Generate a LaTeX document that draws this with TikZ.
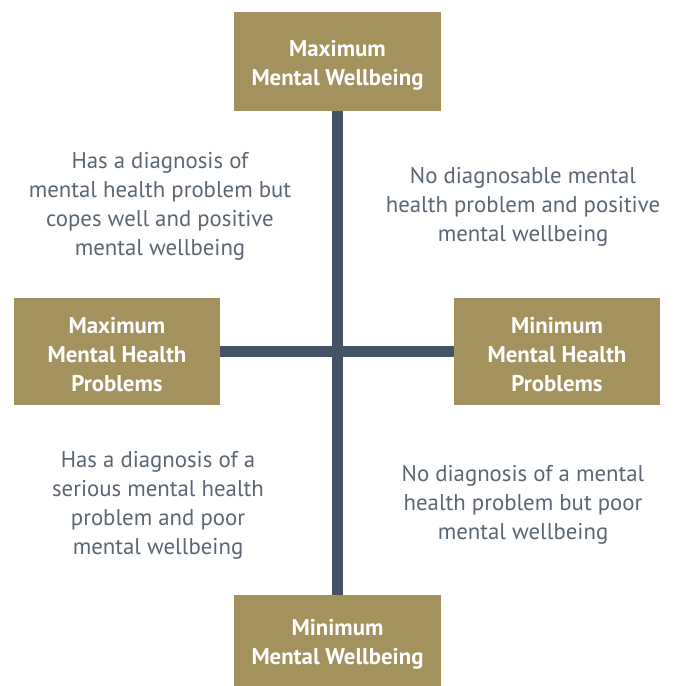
\documentclass[tikz,border=0pt]{standalone}
\usepackage{fontspec}
\setmainfont{PT Sans}
\begin{document}
\begin{tikzpicture}[x=1pt,y=-1pt,
  gold/.style={fill=boxgold, draw=none, text=white, font=\fontsize{22.8}{29}\selectfont\bfseries, align=center, inner sep=0pt},
  goldtext/.style={text=white, font=\fontsize{22.8}{29}\selectfont\bfseries, align=center, inner sep=0pt, yshift=-3.5pt},
  note/.style={text=notegray, font=\fontsize{22.8}{29}\selectfont, align=center, inner sep=0pt, yshift=-3pt},
  axis/.style={draw=axisblue, line width=11pt}]
\definecolor{boxgold}{HTML}{A4925E}
\definecolor{axisblue}{HTML}{435364}
\definecolor{notegray}{HTML}{5A6672}
\useasboundingbox (0,0) rectangle (676,686);
\node[gold, minimum width=207pt, minimum height=99pt] (top) at (337.5,61.5) {};
\node[goldtext] (toptext) at (top.center) {Maximum\\Mental Wellbeing};
\node[gold, minimum width=207pt, minimum height=91pt] (bot) at (337.5,640.5) {};
\node[goldtext] (bottext) at (bot.center) {Minimum\\Mental Wellbeing};
\node[gold, minimum width=206pt, minimum height=107pt] (left) at (117,351.5) {};
\node[goldtext] (lefttext) at (left.center) {Maximum\\Mental Health\\Problems};
\node[gold, minimum width=206pt, minimum height=107pt] (right) at (557,351.5) {};
\node[goldtext] (righttext) at (right.center) {Minimum\\Mental Health\\Problems};
\draw[axis] (top.south) -- (bot.north);
\draw[axis] (left.east) -- (right.west);
\node[note] (tl) at (160,203) {Has a diagnosis of\\mental health problem but\\copes well and positive\\mental wellbeing};
\node[note] (tr) at (523,204) {No diagnosable mental\\health problem and positive\\mental wellbeing};
\node[note] (bl) at (158,502) {Has a diagnosis of a\\serious mental health\\problem and poor\\mental wellbeing};
\node[note] (br) at (523,502) {No diagnosis of a mental\\health problem but poor\\mental wellbeing};
\end{tikzpicture}
\end{document}
